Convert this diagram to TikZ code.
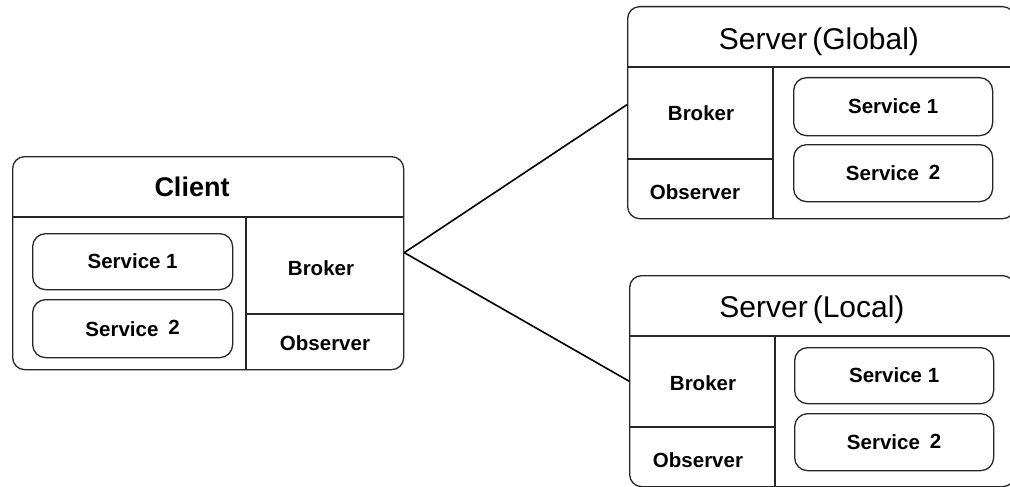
\documentclass[tikz,border=0pt]{standalone}
\usepackage{fontspec}
\setmainfont{Liberation Sans}
\begin{document}
\begin{tikzpicture}[x=1pt,y=-1pt,line width=1.3pt,
  outerbox/.style={draw=black!85,rounded corners=12pt,inner sep=0pt,anchor=north west},
  svcbox/.style={draw=black!85,rounded corners=13pt,inner sep=0pt,anchor=north west,align=center,font=\fontsize{20.5}{24}\selectfont\bfseries},
  lbl/.style={inner sep=0pt,font=\fontsize{20.5}{24}\selectfont\bfseries},
  divider/.style={draw=black!85},
  link/.style={draw=black,line width=1.6pt}]
\useasboundingbox (0,0) rectangle (1010,487);
\fill[white] (0,0) rectangle (1010,487);
\clip (0,0) rectangle (1010,487);

% ---------- Client ----------
\node[outerbox,minimum width=391pt,minimum height=213pt] (client) at (12,156) {};
\draw[divider] (client.west |- 0,217) -- (client.east |- 0,217);
\draw[divider] (246,217) -- (246,0 |- client.south);
\draw[divider] (246,314) -- (client.east |- 0,314);
\node[inner sep=0pt,font=\fontsize{27}{30}\selectfont\bfseries] (ctitle) at (192,187) {Client};
\node[svcbox,minimum width=200pt,minimum height=56pt] (cs1) at (32,233) {Service 1};
\node[svcbox,minimum width=200pt,minimum height=58pt] (cs2) at (32,299) {Service\hspace{10pt}\raisebox{1.5pt}{2}};
\node[lbl] (cbroker) at (321,268) {Broker};
\node[lbl] (cobs) at (325,343) {Observer};

% ---------- Server (Global) ----------
\node[outerbox,minimum width=387pt,minimum height=212pt] (global) at (627,6) {};
\draw[divider] (global.west |- 0,67) -- (global.east |- 0,67);
\draw[divider] (773,67) -- (773,0 |- global.south);
\draw[divider] (global.west |- 0,159) -- (773,159);
\node[inner sep=0pt,font=\fontsize{30}{34}\selectfont] (gtitle) at (819,42) {Server\hspace{5pt}(Global)};
\node[lbl] (gbroker) at (701,113) {Broker};
\node[lbl] (gobs) at (695,192) {Observer};
\node[svcbox,minimum width=199pt,minimum height=58pt] (gs1) at (793,77) {Service 1};
\node[svcbox,minimum width=199pt,minimum height=57pt] (gs2) at (793,144) {Service\hspace{10pt}\raisebox{1.5pt}{2}};

% ---------- Server (Local) ----------
\node[outerbox,minimum width=385pt,minimum height=211pt] (local) at (629,275) {};
\draw[divider] (local.west |- 0,336) -- (local.east |- 0,336);
\draw[divider] (775,336) -- (775,0 |- local.south);
\draw[divider] (local.west |- 0,427) -- (775,427);
\node[inner sep=0pt,font=\fontsize{30}{34}\selectfont] (ltitle) at (812,310) {Server\hspace{5pt}(Local)};
\node[lbl] (lbroker) at (703,383) {Broker};
\node[lbl] (lobs) at (698,460) {Observer};
\node[svcbox,minimum width=199pt,minimum height=56pt] (ls1) at (794,347) {Service 1};
\node[svcbox,minimum width=199pt,minimum height=57pt] (ls2) at (794,413) {Service\hspace{10pt}\raisebox{1.5pt}{2}};

% ---------- connectors ----------
\coordinate (hub) at ([yshift=10.5pt]client.east);
\draw[link] (hub) -- ([yshift=8pt]global.west);
\draw[link] (hub) -- (local.west);
\end{tikzpicture}
\end{document}
